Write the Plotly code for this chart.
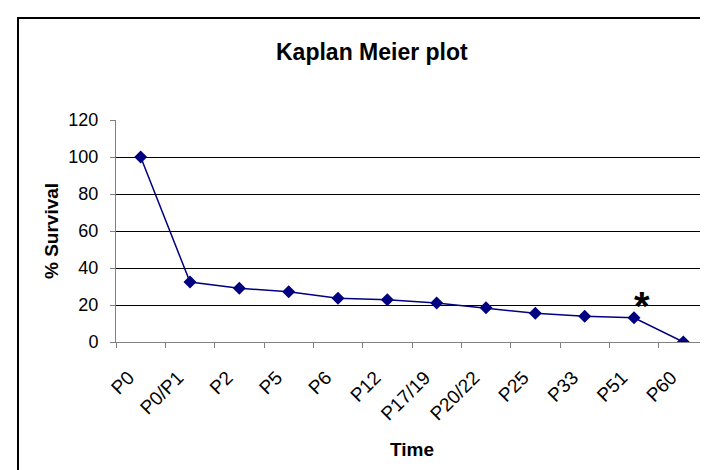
import plotly.graph_objects as go

categories = ["P0", "P0/P1", "P2", "P5", "P6", "P12", "P17/19", "P20/22", "P25", "P33", "P51", "P60"]
survival = [100, 32.4, 29.0, 27.2, 23.6, 22.9, 21.1, 18.5, 15.5, 13.9, 13.1, 0]
y_ticks = [0, 20, 40, 60, 80, 100, 120]

W, H = 708, 470
ML, MR, MT, MB = 108, 8, 112, 136
PW, PH = W - ML - MR, H - MT - MB

FONT = "Liberation Sans, Arial, sans-serif"

fig = go.Figure()
fig.add_trace(go.Scatter(
    x=categories, y=survival, mode="lines+markers",
    line=dict(color="#000080", width=1.5),
    marker=dict(symbol="diamond", size=10, color="#000080"),
    showlegend=False, hoverinfo="x+y",
))

def px_x(px):
    return (px - ML) / PW

def px_y(py):
    return (H - MB - py) / PH

fig.update_layout(
    width=W, height=H,
    margin=dict(l=ML, r=MR, t=MT, b=MB),
    paper_bgcolor="white", plot_bgcolor="white",
    font=dict(family=FONT, color="black", size=18),
    xaxis=dict(
        type="category", showgrid=False, showline=True, linecolor="#808080", linewidth=1,
        ticks="outside", ticklen=5, tickcolor="#808080", tickson="boundaries",
        tickangle=-45, tickfont=dict(size=19, color="black"),
        ticklabelstandoff=16, ticklabelshift=-12,
        range=[-0.5, len(categories) - 0.5], fixedrange=True,
    ),
    yaxis=dict(
        range=[0, 120], tickvals=y_ticks, showgrid=True, gridcolor="black", gridwidth=1,
        zeroline=False, showline=True, linecolor="#808080", linewidth=1,
        ticks="outside", ticklen=5, tickcolor="#808080",
        tickfont=dict(size=18, color="black"), ticklabelstandoff=8,
    ),
    shapes=[dict(
        type="rect", xref="paper", yref="paper",
        x0=px_x(10), x1=px_x(730), y0=px_y(490), y1=px_y(10),
        line=dict(color="black", width=2), fillcolor="rgba(0,0,0,0)", layer="below",
    )],
    annotations=[
        dict(text="<b>Kaplan Meier plot</b>", xref="paper", yref="paper",
             x=px_x(364), y=px_y(44), showarrow=False, font=dict(size=23),
             xanchor="center", yanchor="middle"),
        dict(text="<b>Time</b>", xref="paper", yref="paper",
             x=px_x(404), y=px_y(441), showarrow=False, font=dict(size=19),
             xanchor="center", yanchor="middle"),
        dict(text="<b>% Survival</b>", xref="paper", yref="paper",
             x=px_x(43), y=px_y(223), showarrow=False, font=dict(size=19),
             textangle=-90, xanchor="center", yanchor="middle"),
        dict(text="<b>*</b>", xref="x", yref="y", x=10.17, y=survival[10],
             showarrow=False, font=dict(size=40), xanchor="center", yanchor="middle",
             yshift=12),
    ],
)

fig.write_html("out.html")
